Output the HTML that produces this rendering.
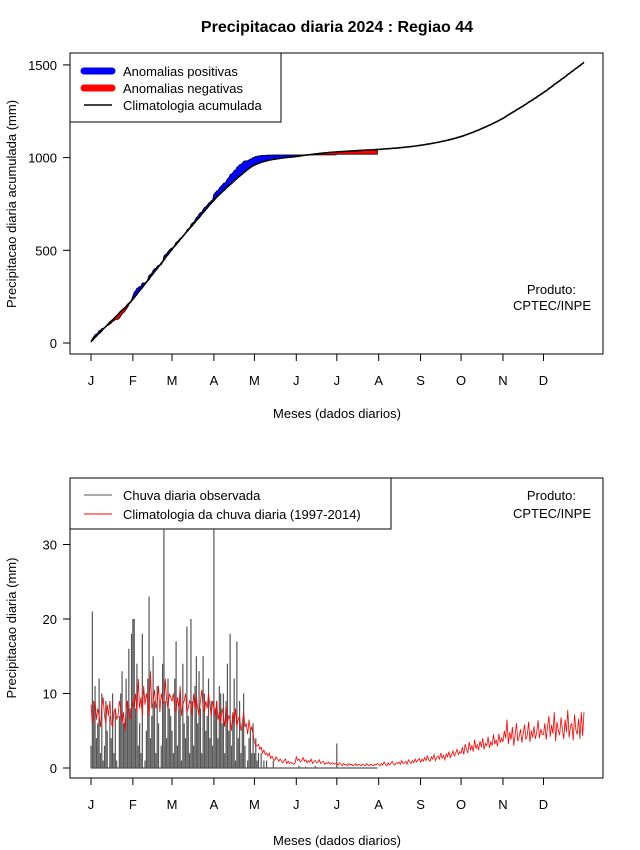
<!DOCTYPE html>
<html><head><meta charset="utf-8"><style>
body{margin:0;background:#fff}
svg{display:block;font-family:"Liberation Sans",sans-serif}
</style></head><body>
<svg id="c" width="640" height="850" xmlns="http://www.w3.org/2000/svg">
<rect width="640" height="850" fill="#fff"/>
<text x="337" y="32" font-size="16" font-weight="bold" text-anchor="middle">Precipitacao diaria 2024 : Regiao 44</text>
<g id="topPanel"></g>
<g id="botPanel"></g>
</svg>
<script>
const months=["J","F","M","A","M","J","J","A","S","O","N","D"];
const monthStart=[0,31,60,91,121,152,182,213,244,274,305,335];
const topTicks=[0,500,1000,1500];
const botTicks=[0,10,20,30];
const climJan=[8.5,6,7.5,9,6.5,8,7,5.5,8,9.5,7,6,8.5,7,9,6,5.5,7.5,8,6.5,7,9,8,6,7.5,5,8,9,7,6.5,8];
const climFeb=[9,8,10,7.5,12,8,9.5,7,11,8.5,10,9,7,13,8,9,10.5,8,9,11,7.5,10,9,8.5,12,9,8,10,9.5];
const climMar=[9,10,8,7.5,9.5,8,11,7,8.5,9,10,7.5,8,9,8.5,7,10,8,9.5,8,7,9,10.5,8,7.5,9,8,10,8.5,7,9];
const climApr=[8,7,9,6.5,7.5,6,8,7,5.5,8.5,6,7,6.5,5,7.5,6,8,5.5,6.5,7,5,6,7.5,5.5,6,4.5,6.5,5,5.5,4.5];
const climMay=[3.5,3,3,3.2,2.5,2.8,2,2.4,1.8,2,1.6,2,1.3,1.6,1.2,1,1.5,1.2,0.9,1.2,0.9,0.7,1,1.2,0.6,0.9,0.6,0.8,0.6,0.5,0.6];
const climJun=[1.5,1,1.2,0.8,1,1.4,0.9,1.1,0.7,1,0.8,1.2,0.6,0.9,1,0.7,0.8,1.1,0.6,0.8,0.9,0.5,0.7,0.6,0.8,0.5,0.6,0.7,0.5,0.6];
const climJul=[0.6,0.4,0.7,0.5,0.3,0.6,0.4,0.5,0.3,0.6,0.4,0.5,0.3,0.4,0.6,0.3,0.5,0.4,0.3,0.5,0.4,0.3,0.6,0.4,0.3,0.5,0.4,0.3,0.5,0.4,0.6];
const climAug=[0.5,0.3,0.6,0.4,0.8,0.5,0.3,0.7,0.4,0.6,0.9,0.5,0.4,0.7,0.6,0.8,0.5,1,0.6,0.7,0.9,0.5,1.1,0.8,0.6,1,0.7,1.2,0.8,1,1.3];
const climSep=[0.8,1.2,0.9,1.4,1,1.6,1.1,0.9,1.5,1.2,1.8,1,1.4,1.6,1.2,2,1.3,1.7,1.1,1.9,1.5,2.2,1.4,1.8,2.3,1.6,2,2.5,1.8,2.2];
const climOct=[2,2.8,1.8,3.2,2.5,2,3.5,2.4,3,2.2,3.8,2.6,3.1,2.4,3.6,2.8,4,2.5,3.3,3,4.2,2.7,3.5,3,4.5,3.2,3.8,2.9,4.6,3.4,4];
const climNov=[3.5,5,4,6.5,3.2,4.8,3.8,5.5,3,4.5,6,3.6,4.2,5.2,3.4,4.6,5.8,3.8,4.4,6.2,3.5,5,4.1,5.6,3.9,4.8,6.4,4,5.2,4.5];
const climDec=[4.5,6,3.8,5.5,7,4.2,5.8,4.6,7.5,3.6,6.2,5,4.4,6.8,5.2,3.9,6.5,4.8,7.8,4.1,5.6,6,3.7,7.2,5.1,4.5,6.6,3.9,7.5,4.3,7.5];
const obsJan=[3,21,9,11,4,6,12,2,10,1,3,9,5,0,7,4,10,2,8,1,0,7,10,13,6,6,12,9,16,8,18];
const obsFeb=[20,20,8,14,3,6,2,18,0,1,5,12,23,4,7,15,9,2,11,6,0,3,14,32,9,4,12,8,7];
const obsMar=[5,2,12,17,3,8,10,1,14,6,4,19,7,2,20,9,3,11,15,6,13,8,2,15,10,5,7,12,4,9,3];
const obsApr=[32,8,9,4,11,10,6,10,2,9,14,5,18,3,7,12,1,17,4,9,2,6,10,3,0,1,4,5,2,6];
const obsMay=[2,4,1,2,0,2,0,1,0,1,0,0,0,0,1,0,0,0,0,0,0,0,0,0,0,0,0,0,0,0,0];
const obsJun=[0,0,0.3,0,0,0,0,0.2,0,0,0,0,0,0,0.3,0,0,0,0,0,0,0,0,0,0,0,0,0,0,0];
const obsJul=[3.3,0,0,0,0,0,0,0,0,0,0,0,0,0,0,0,0,0,0,0,0,0,0,0,0,0,0,0,0,0,0];

const NS="http://www.w3.org/2000/svg";
const clim=[].concat(climJan,climFeb,climMar,climApr,climMay,climJun,climJul,climAug,climSep,climOct,climNov,climDec);
const obs=[].concat(obsJan,obsFeb,obsMar,obsApr,obsMay,obsJun,obsJul);
function cum(a){let s=0;return a.map(v=>s+=v);}
const cClim=cum(clim), cObs=cum(obs);
const xd=i=>91+i*(493/365);
const yT=v=>343-v*(92.7/500);
const yB=v=>768-v*7.45;
function el(p,t,a,txt){const e=document.createElementNS(NS,t);for(const k in a)e.setAttribute(k,a[k]);if(txt!==undefined)e.textContent=txt;p.appendChild(e);return e;}
const topG=document.getElementById('topPanel'), botG=document.getElementById('botPanel');

function axes(g,y0,y1,ticks,yf,pref){
  let r=el(g,'rect',{x:70,y:y0,width:533,height:y1-y0,fill:'none',stroke:'#000','stroke-width':1});
  
  
  months.forEach((m,k)=>{const x=xd(monthStart[k]);
    el(g,'line',{x1:x,x2:x,y1:y1,y2:y1+7,stroke:'#000'});
    let t=el(g,'text',{x:x,y:y1+31,'font-size':13,'text-anchor':'middle'},m);
    
    });
  el(g,'line',{x1:xd(0),x2:xd(334),y1:y1,y2:y1,stroke:'#000'});
  ticks.forEach(v=>{const y=yf(v);
    el(g,'line',{x1:63,x2:70,y1:y,y2:y,stroke:'#000'});
    let t=el(g,'text',{x:57,y:y+5,'font-size':13,'text-anchor':'end'},String(v));
    
    });
}
axes(topG,53,354,topTicks,yT,'top');
axes(botG,478,778,botTicks,yB,'bottom');

for(let i=0;i<obs.length-1;i++){
  const d=cObs[i]-cClim[i]+cObs[i+1]-cClim[i+1];
  let p=el(topG,'polygon',{points:`${xd(i)},${yT(cObs[i])} ${xd(i+1)},${yT(cObs[i+1])} ${xd(i+1)},${yT(cClim[i+1])} ${xd(i)},${yT(cClim[i])}`,fill:d>=0?'#0000ff':'#ff0000',stroke:d>=0?'#0000ff':'#ff0000','stroke-width':0.6});
  
  
}
let ol=el(topG,'polyline',{points:cObs.map((v,i)=>xd(i)+','+yT(v)).join(' ')+` ${xd(obs.length-1)},${yT(cClim[obs.length-1])}`,fill:'none',stroke:'#000','stroke-width':0.8});


let cl=el(topG,'polyline',{points:cClim.map((v,i)=>xd(i)+','+yT(v)).join(' '),fill:'none',stroke:'#000','stroke-width':1.6});



obs.forEach((v,i)=>{if(v<=0)return;
  let b=el(botG,'line',{x1:xd(i),x2:xd(i),y1:yB(0),y2:yB(v),stroke:'#555','stroke-width':1.2});
  
  });
el(botG,'line',{x1:xd(0),x2:xd(obs.length-1),y1:yB(0),y2:yB(0),stroke:'#555','stroke-width':1.2});
let rl=el(botG,'polyline',{points:clim.map((v,i)=>xd(i)+','+yB(v)).join(' '),fill:'none',stroke:'#ff0000','stroke-width':0.8});


</script>
<svg style="position:absolute;left:0;top:0" width="640" height="850" xmlns="http://www.w3.org/2000/svg" font-family="Liberation Sans, sans-serif">
<g>
<rect x="70" y="53" width="211" height="69" fill="#fff" stroke="#000"/>
<line x1="84" y1="71" x2="112" y2="71" stroke="#0000ff" stroke-width="7" stroke-linecap="round"/>
<line x1="84" y1="88" x2="112" y2="88" stroke="#ff0000" stroke-width="7" stroke-linecap="round"/>
<line x1="84" y1="105" x2="112" y2="105" stroke="#000" stroke-width="1.5"/>
<text x="123" y="76" font-size="13">Anomalias positivas</text>
<text x="123" y="93" font-size="13">Anomalias negativas</text>
<text x="123" y="110" font-size="13">Climatologia acumulada</text>
</g>
<g>
<rect x="70" y="478" width="321" height="51" fill="#fff" stroke="#000"/>
<line x1="84" y1="495" x2="112" y2="495" stroke="#555" stroke-width="1"/>
<line x1="84" y1="514" x2="112" y2="514" stroke="#ff0000" stroke-width="1"/>
<text x="123" y="500" font-size="13">Chuva diaria observada</text>
<text x="123" y="519" font-size="13">Climatologia da chuva diaria (1997-2014)</text>
</g>
<text x="576" y="294" font-size="13" text-anchor="end">Produto:</text>
<text x="591" y="310" font-size="13" text-anchor="end">CPTEC/INPE</text>
<text x="576" y="500" font-size="13" text-anchor="end">Produto:</text>
<text x="591" y="518" font-size="13" text-anchor="end">CPTEC/INPE</text>
<text x="337" y="418" font-size="13" text-anchor="middle">Meses (dados diarios)</text>
<text x="337" y="845" font-size="13" text-anchor="middle">Meses (dados diarios)</text>
<text transform="translate(16,204) rotate(-90)" font-size="13" text-anchor="middle">Precipitacao diaria acumulada (mm)</text>
<text transform="translate(16,628) rotate(-90)" font-size="13" text-anchor="middle">Precipitacao diaria (mm)</text>
</svg>
</body></html>
